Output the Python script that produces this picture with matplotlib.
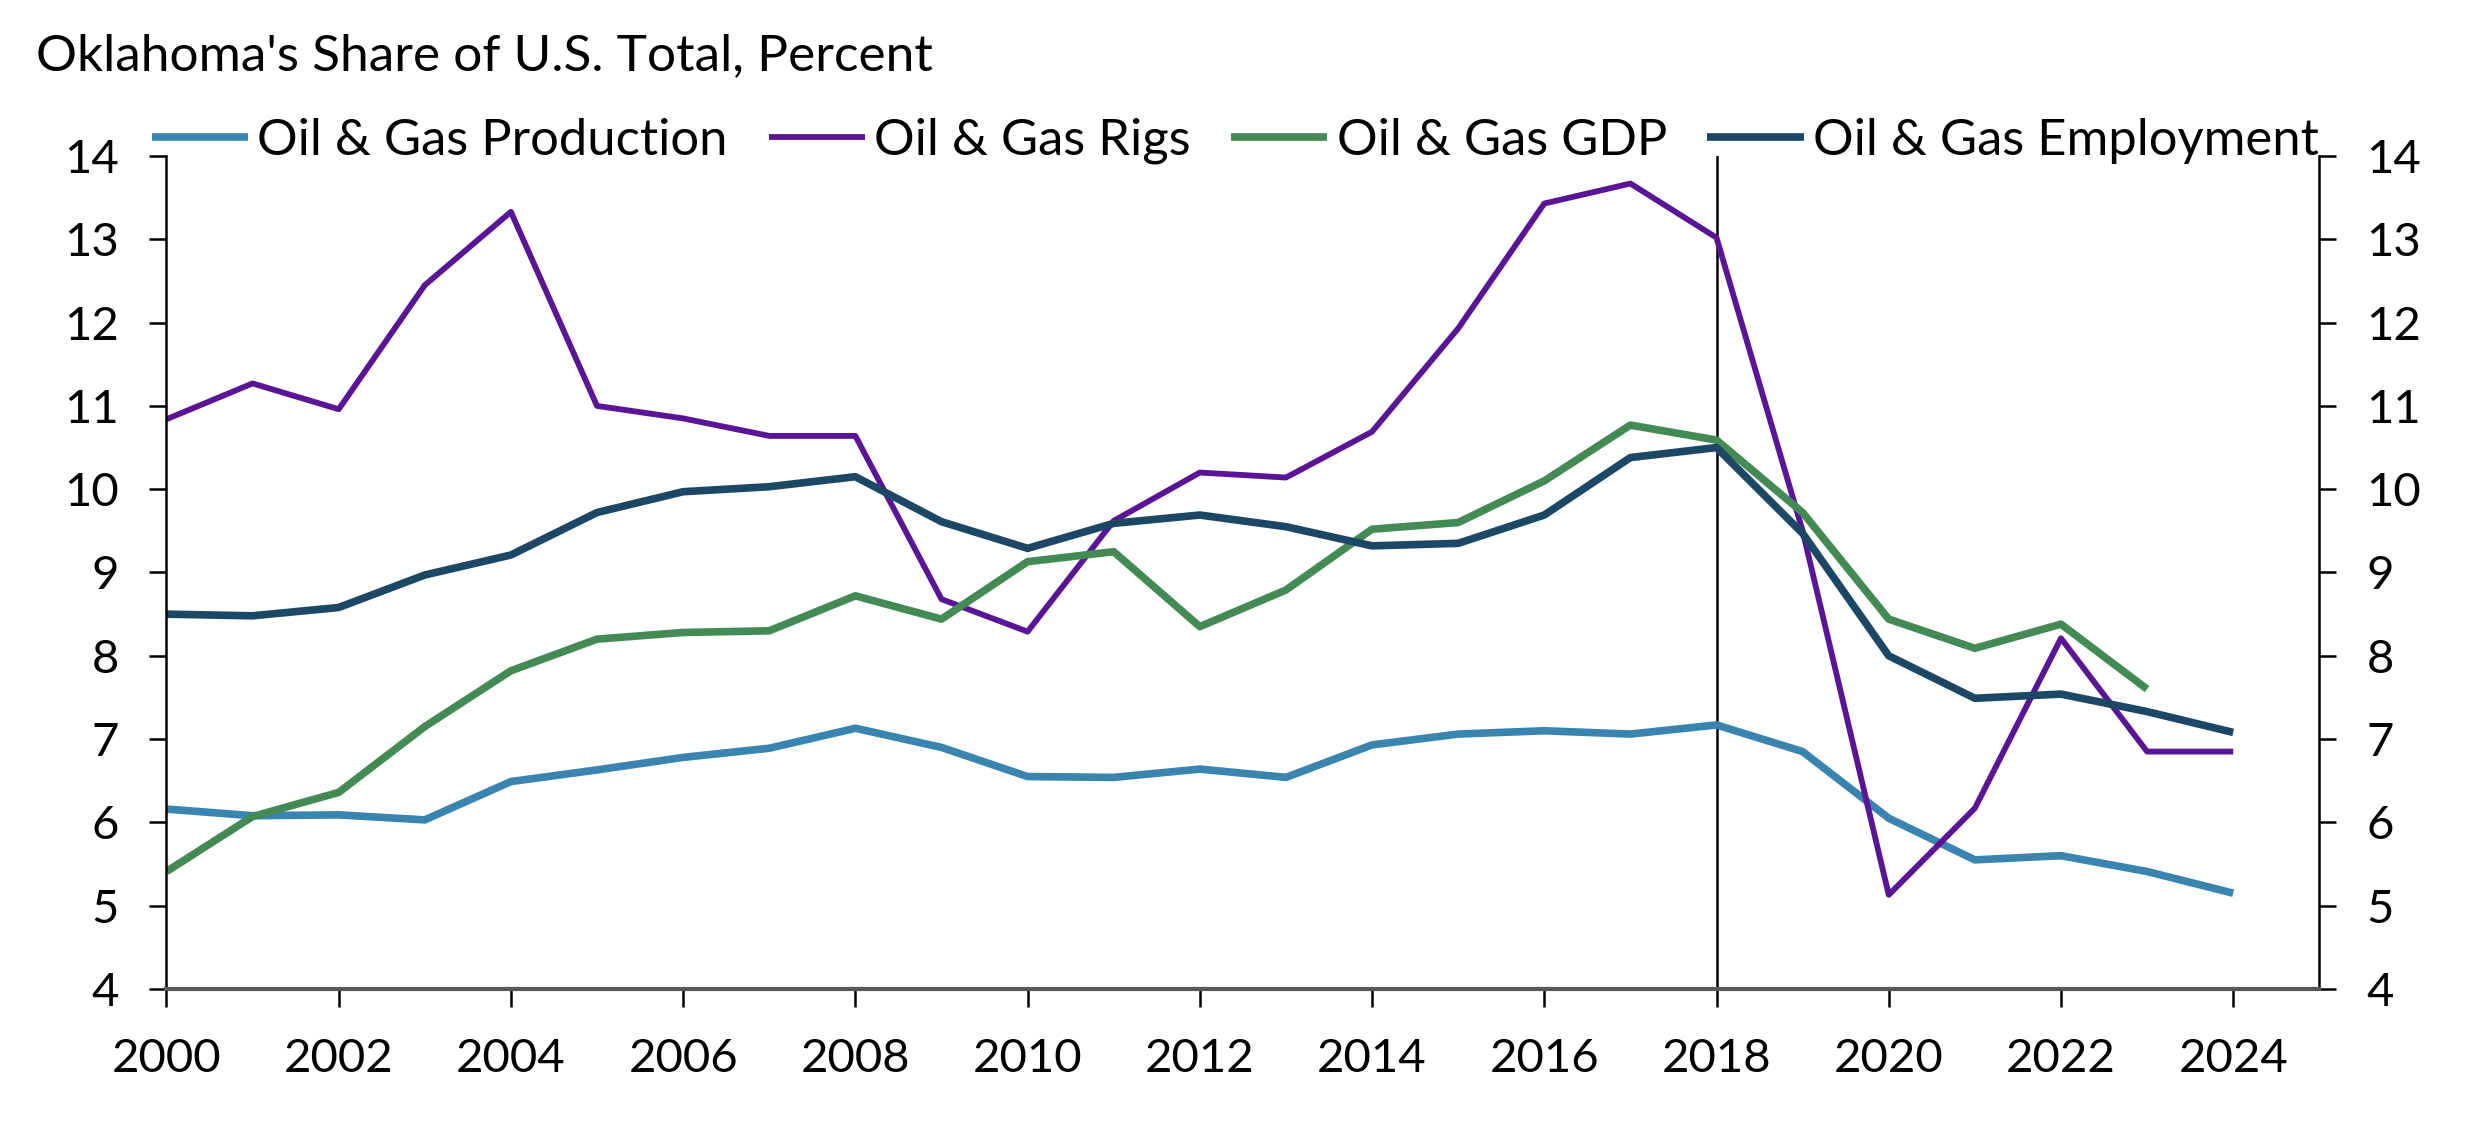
import numpy as np
from matplotlib import pyplot as plt

plt.rcParams['font.family'] = ['Lato', 'DejaVu Sans']

# Oklahoma's share of U.S. total, percent
years = list(range(2000, 2025))
production = [6.16, 6.08, 6.09, 6.03, 6.49, 6.63, 6.78, 6.89, 7.13, 6.90,
              6.55, 6.54, 6.64, 6.54, 6.93, 7.06, 7.10, 7.06, 7.17, 6.85,
              6.05, 5.55, 5.60, 5.41, 5.15]
rigs = [10.84, 11.27, 10.96, 12.45, 13.33, 11.00, 10.85, 10.64, 10.64, 8.68,
        8.29, 9.62, 10.20, 10.14, 10.69, 11.93, 13.43, 13.67, 13.02, 9.50,
        5.13, 6.17, 8.21, 6.85, 6.85]
gdp_years = list(range(2000, 2024))
gdp = [5.41, 6.07, 6.36, 7.15, 7.82, 8.20, 8.28, 8.30, 8.72, 8.44,
       9.13, 9.25, 8.35, 8.79, 9.52, 9.60, 10.10, 10.77, 10.59, 9.72,
       8.44, 8.09, 8.38, 7.60]
employment = [8.50, 8.48, 8.58, 8.97, 9.21, 9.72, 9.97, 10.03, 10.15, 9.61,
              9.29, 9.59, 9.69, 9.55, 9.32, 9.35, 9.69, 10.38, 10.50, 9.47,
              8.00, 7.49, 7.54, 7.33, 7.08]

labels = ['Oil & Gas Production', 'Oil & Gas Rigs', 'Oil & Gas GDP', 'Oil & Gas Employment']
colors = ['#3a84b0', '#5a1596', '#448a55', '#1c4866']

fig = plt.figure(figsize=(24.88, 11.34), dpi=100)
ax = fig.add_axes([0.0669, 0.1279, 0.8653, 0.7345])

kw = dict(solid_joinstyle='round', solid_capstyle='butt')
ax.plot(years, production, color=colors[0], lw=5.5, label=labels[0], **kw)
ax.plot(years, rigs, color=colors[1], lw=4.2, label=labels[1], **kw)
ax.plot(gdp_years, gdp, color=colors[2], lw=5.5, label=labels[2], **kw)
ax.plot(years, employment, color=colors[3], lw=5.5, label=labels[3], **kw)

ax.axvline(2018, color='black', lw=1.8, zorder=1)

ax.set_xlim(2000, 2025)
ax.set_ylim(4, 14)
ax.set_xticks(range(2000, 2025, 2))
ax.set_yticks(range(4, 15))

ax.spines['top'].set_visible(False)
ax.spines['left'].set_linewidth(1.8)
ax.spines['right'].set_linewidth(1.8)
ax.spines['bottom'].set_linewidth(3)
ax.spines['bottom'].set_color('#595959')

ax.tick_params(axis='y', which='both', left=True, right=True, labelleft=True,
               labelright=True, direction='out', length=12, width=1.8,
               labelsize=34, pad=22)
ax.tick_params(axis='x', direction='out', length=13, width=1.8, labelsize=34, pad=22)

fig.text(36 / 2488, 1 - 70 / 1134, "Oklahoma's Share of U.S. Total, Percent",
         fontsize=37, va='baseline', ha='left')

fig.legend(loc='center left', bbox_to_anchor=(152 / 2488, 1 - 141 / 1134),
           ncol=4, frameon=False, fontsize=36.5, handlelength=1.9,
           handletextpad=0.18, columnspacing=0.8, borderaxespad=0, borderpad=0)

fig.savefig('out.png', dpi=100)
